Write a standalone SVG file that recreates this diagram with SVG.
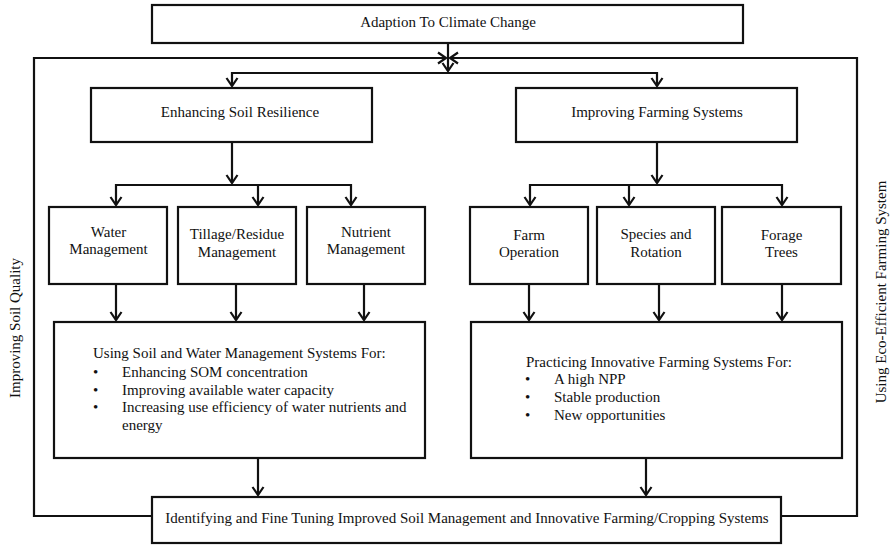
<svg xmlns="http://www.w3.org/2000/svg" width="891" height="545" viewBox="0 0 891 545">
<style>
.box{fill:#fff;stroke:#111;stroke-width:2.2}
.t{font-family:"Liberation Serif","Times New Roman",serif;font-size:15px;fill:#111}
.c{text-anchor:middle}
.ln{fill:none;stroke:#111;stroke-width:2.2}
.ar{marker-end:url(#a)}
</style>
<defs>
<marker id="a" markerUnits="userSpaceOnUse" markerWidth="14" markerHeight="14" viewBox="-11 -7 14 14" refX="0" refY="0" orient="auto" overflow="visible">
<path d="M-8,-5.5 L0,0 L-8,5.5" fill="none" stroke="#111" stroke-width="2.2"/>
</marker>
</defs>
<rect width="891" height="545" fill="#fff"/>
<g id="connectors">
<path class="ln ar" d="M448,43 V71"/>
<path class="ln ar" d="M448,73 H232 V86"/>
<path class="ln ar" d="M448,73 H657 V86"/>
<path class="ln ar" d="M152,516 H34 V58 H446"/>
<path class="ln ar" d="M781,516 H857 V58 H450"/>
<path class="ln ar" d="M232,142 V183"/>
<path class="ln ar" d="M232,185 H116 V205"/>
<path class="ln ar" d="M232,185 H351 V205"/>
<path class="ln ar" d="M258,185 V205"/>
<path class="ln ar" d="M657,142 V183"/>
<path class="ln ar" d="M657,185 H530 V205"/>
<path class="ln ar" d="M657,185 H782 V205"/>
<path class="ln ar" d="M629,185 V205"/>
<path class="ln ar" d="M116,284 V320"/>
<path class="ln ar" d="M236,284 V320"/>
<path class="ln ar" d="M364,284 V320"/>
<path class="ln ar" d="M529,284 V320"/>
<path class="ln ar" d="M659,284 V320"/>
<path class="ln ar" d="M782,284 V320"/>
<path class="ln ar" d="M258,458 V495"/>
<path class="ln ar" d="M646,458 V495"/>
</g>
<g id="top">
<rect class="box" x="152" y="5" width="591" height="38"/>
<text class="t c" x="448" y="27">Adaption To Climate Change</text>
</g>
<g id="soil">
<rect class="box" x="91" y="88" width="281" height="54"/>
<text class="t c" x="240" y="117">Enhancing Soil Resilience</text>
</g>
<g id="farming">
<rect class="box" x="516" y="88" width="281" height="54"/>
<text class="t c" x="657" y="117">Improving Farming Systems</text>
</g>
<g id="water">
<rect class="box" x="49" y="207" width="118" height="77"/>
<text class="t c" x="108.5" y="236.5">Water</text>
<text class="t c" x="108.5" y="254">Management</text>
</g>
<g id="tillage">
<rect class="box" x="178" y="207" width="118" height="77"/>
<text class="t c" x="237" y="239">Tillage/Residue</text>
<text class="t c" x="237" y="257">Management</text>
</g>
<g id="nutrient">
<rect class="box" x="307" y="207" width="118" height="77"/>
<text class="t c" x="366" y="236.5">Nutrient</text>
<text class="t c" x="366" y="254">Management</text>
</g>
<g id="farm">
<rect class="box" x="470" y="207" width="118" height="77"/>
<text class="t c" x="529" y="240">Farm</text>
<text class="t c" x="529" y="257">Operation</text>
</g>
<g id="species">
<rect class="box" x="597" y="207" width="118" height="77"/>
<text class="t c" x="656" y="239">Species and</text>
<text class="t c" x="656" y="257">Rotation</text>
</g>
<g id="forage">
<rect class="box" x="722" y="207" width="119" height="77"/>
<text class="t c" x="781.5" y="240">Forage</text>
<text class="t c" x="781.5" y="257">Trees</text>
</g>
<g id="soilsystems">
<rect class="box" x="54" y="322" width="371" height="136"/>
<text class="t" x="93" y="358">Using Soil and Water Management Systems For:</text>
<text class="t" x="93" y="376.5">•</text><text class="t" x="122" y="376.5">Enhancing SOM concentration</text>
<text class="t" x="93" y="394.5">•</text><text class="t" x="122" y="394.5">Improving available water capacity</text>
<text class="t" x="93" y="412">•</text><text class="t" x="122" y="412">Increasing use efficiency of water nutrients and</text>
<text class="t" x="122" y="429.5">energy</text>
</g>
<g id="farmsystems">
<rect class="box" x="471" y="322" width="371" height="136"/>
<text class="t" x="526" y="366.5">Practicing Innovative Farming Systems For:</text>
<text class="t" x="525" y="384">•</text><text class="t" x="554" y="384">A high NPP</text>
<text class="t" x="525" y="402">•</text><text class="t" x="554" y="402">Stable production</text>
<text class="t" x="525" y="420">•</text><text class="t" x="554" y="420">New opportunities</text>
</g>
<g id="bottom">
<rect class="box" x="152" y="497" width="629" height="46"/>
<text class="t c" x="467" y="523">Identifying and Fine Tuning Improved Soil Management and Innovative Farming/Cropping Systems</text>
</g>
<g id="labels">
<text class="t c" transform="translate(20,328) rotate(-90)">Improving Soil Quality</text>
<text class="t c" transform="translate(886,292) rotate(-90)">Using Eco-Efficient Farming System</text>
</g>
</svg>
